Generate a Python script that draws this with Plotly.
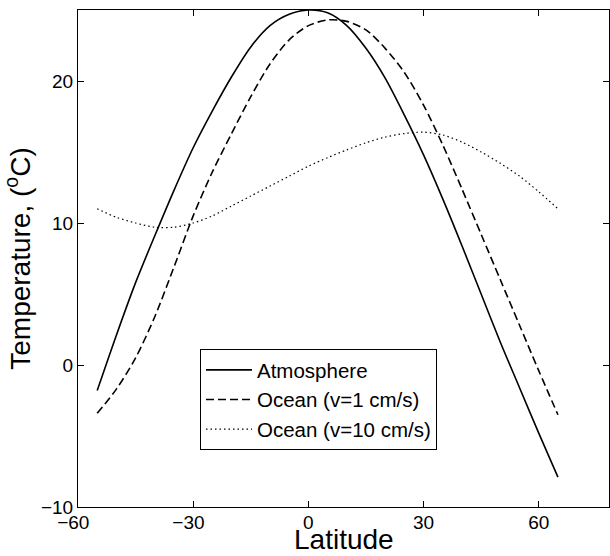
import plotly.graph_objects as go

latitude = [-55, -50, -45, -40, -35, -30, -25, -20, -15, -10, -5, 0, 5,
            10, 15, 20, 25, 30, 35, 40, 45, 50, 55, 60, 65]

atmosphere = [-1.8, 2.1, 5.8, 9.1, 12.3, 15.3, 17.9, 20.3, 22.4, 23.9, 24.7, 25.0, 24.8,
              23.9, 22.3, 20.2, 17.6, 14.8, 11.7, 8.4, 5.0, 1.6, -1.6, -4.8, -7.9]

ocean_v1 = [-3.4, -1.7, 0.5, 3.4, 6.9, 10.5, 13.6, 16.3, 18.9, 21.2, 22.9, 23.9, 24.3,
            24.2, 23.6, 22.3, 20.6, 18.3, 15.5, 12.4, 9.2, 6.0, 2.8, -0.4, -3.5]

ocean_v10 = [11.0, 10.4, 10.0, 9.7, 9.7, 10.0, 10.5, 11.2, 11.9, 12.6, 13.3, 14.0, 14.6,
             15.15, 15.65, 16.05, 16.3, 16.4, 16.2, 15.7, 15.0, 14.2, 13.3, 12.2, 11.0]

x_ticks = [-60, -30, 0, 30, 60]
x_tick_text = ["\u221260\u2002", "\u221230\u2002", "0", "30", "60"]
y_ticks = [-10, 0, 10, 20]
y_tick_text = ["\u221210", "0", "10", "20"]

FONT = "Liberation Sans, Arial, Helvetica, sans-serif"

fig = go.Figure()
fig.add_trace(go.Scatter(x=latitude, y=atmosphere, mode="lines", name="Atmosphere",
                         line=dict(color="black", width=1.6, dash="solid",
                                   shape="spline", smoothing=0.8)))
fig.add_trace(go.Scatter(x=latitude, y=ocean_v1, mode="lines", name="Ocean (v=1 cm/s)",
                         line=dict(color="black", width=1.6, dash="8px,4px",
                                   shape="spline", smoothing=0.8)))
fig.add_trace(go.Scatter(x=latitude, y=ocean_v10, mode="lines", name="Ocean (v=10 cm/s)",
                         line=dict(color="black", width=1.2, dash="1.5px,3px",
                                   shape="spline", smoothing=0.8)))

axis_common = dict(showgrid=False, zeroline=False, showline=True, linecolor="black",
                   linewidth=1, mirror="allticks", ticks="inside", ticklen=6,
                   tickcolor="black", tickwidth=1, automargin=False,
                   tickfont=dict(family=FONT, size=19, color="black"))

fig.update_layout(
    width=610, height=556,
    margin=dict(l=78, r=1, t=10, b=49),
    paper_bgcolor="white", plot_bgcolor="white",
    font=dict(family=FONT, color="black"),
    showlegend=True,
    legend=dict(x=(200 - 78) / 531, y=(507 - 349) / 497, xanchor="left", yanchor="top",
                bordercolor="black", borderwidth=1, bgcolor="white",
                font=dict(family=FONT, size=20.5, color="black"),
                itemwidth=46, tracegroupgap=0),
    xaxis=dict(range=[-60, 78.3], tickvals=x_ticks, ticktext=x_tick_text,
               ticklabelstandoff=-2,
               **axis_common),
    yaxis=dict(range=[-10, 25], tickvals=y_ticks, ticktext=y_tick_text,
               title=dict(text="Temperature, (<sup>o</sup>C)",
                          font=dict(family=FONT, size=28, color="black"), standoff=6),
               **axis_common),
    annotations=[dict(text="Latitude", xref="paper", yref="paper", x=0.5, y=0,
                      xanchor="center", yanchor="bottom", yshift=-50, showarrow=False,
                      font=dict(family=FONT, size=28, color="black"))],
)

fig.write_html("out.html", config={"displayModeBar": False},
               post_script="document.body.style.margin='0px';document.body.style.overflow='hidden';")
